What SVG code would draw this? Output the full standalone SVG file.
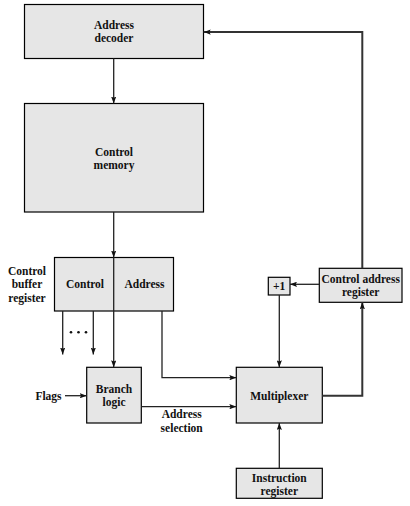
<svg xmlns="http://www.w3.org/2000/svg" width="410" height="506" viewBox="0 0 410 506">
<style>
.box{fill:#e6e6e6;stroke:#000;stroke-width:1.2}
.t{font-family:"Liberation Serif","Times New Roman",serif;font-weight:bold;font-size:11.5px;fill:#111;text-anchor:middle}
.c{fill:none;stroke:#222;stroke-width:1.3}
.k{fill:none;stroke:#333;stroke-width:2}
</style>
<defs>
<marker id="ah" viewBox="0 0 8 6" refX="8" refY="3" markerWidth="7" markerHeight="5.5" markerUnits="userSpaceOnUse" orient="auto">
<path d="M0,0 L8,3 L0,6 L1.5,3 z" fill="#111"/>
</marker>
</defs>
<rect width="410" height="506" fill="#fff"/>
<g id="address-decoder">
<rect class="box" x="24.5" y="4.5" width="179" height="54"/>
<text class="t" x="114" y="29">Address</text>
<text class="t" x="114" y="42">decoder</text>
</g>
<g id="control-memory">
<rect class="box" x="24.5" y="103.5" width="179" height="108.5"/>
<text class="t" x="114" y="156">Control</text>
<text class="t" x="114" y="169">memory</text>
</g>
<g id="control-buffer-register">
<rect class="box" x="54.5" y="257.5" width="119" height="53.5"/>
<text class="t" x="85" y="288">Control</text>
<text class="t" x="144.5" y="288">Address</text>
<text class="t" x="27" y="274.5">Control</text>
<text class="t" x="27" y="288">buffer</text>
<text class="t" x="27" y="301.5">register</text>
</g>
<g id="branch-logic">
<rect class="box" x="86.7" y="367.3" width="54.6" height="55.7"/>
<text class="t" x="114" y="393">Branch</text>
<text class="t" x="114" y="406">logic</text>
</g>
<g id="multiplexer">
<rect class="box" x="236.3" y="367.3" width="86" height="55.7"/>
<text class="t" x="279.3" y="399.5">Multiplexer</text>
</g>
<g id="plus-one">
<rect class="box" x="268.3" y="277.3" width="21.7" height="17.7"/>
<text class="t" x="279.2" y="290">+1</text>
</g>
<g id="control-address-register">
<rect class="box" x="319.3" y="268.3" width="82.7" height="34"/>
<text class="t" x="360.7" y="283">Control address</text>
<text class="t" x="360.7" y="296">register</text>
</g>
<g id="instruction-register">
<rect class="box" x="236.3" y="468.3" width="86" height="30"/>
<text class="t" x="279.3" y="481.5">Instruction</text>
<text class="t" x="279.3" y="494.5">register</text>
</g>
<g id="flags">
<text class="t" x="48.5" y="399.5">Flags</text>
</g>
<g id="address-selection">
<text class="t" x="181.7" y="418">Address</text>
<text class="t" x="181.7" y="431.5">selection</text>
</g>
<g id="connectors">
<path class="c" d="M113.7,58.5 V103.5" marker-end="url(#ah)"/>
<path class="c" d="M113.7,212 V257.5" marker-end="url(#ah)"/>
<path class="c" d="M113.7,257.5 V367.3" marker-end="url(#ah)"/>
<path class="c" d="M62.7,311 V354.5" marker-end="url(#ah)"/>
<path class="c" d="M93.3,311 V354.5" marker-end="url(#ah)"/>
<circle cx="71" cy="332.3" r="1.3" fill="#111"/>
<circle cx="78.5" cy="332.3" r="1.3" fill="#111"/>
<circle cx="86" cy="332.3" r="1.3" fill="#111"/>
<path class="c" d="M65,395.7 H86.7" marker-end="url(#ah)"/>
<path class="c" d="M162,311 V377.7 H236.3" marker-end="url(#ah)"/>
<path class="c" d="M141.3,406.7 H236.3" marker-end="url(#ah)"/>
<path class="k" d="M322.3,395.7 H362.3 V302.3" marker-end="url(#ah)"/>
<path class="k" d="M362.3,268.3 V32 H203.7" marker-end="url(#ah)"/>
<path class="c" d="M319.3,284.3 H290" marker-end="url(#ah)"/>
<path class="c" d="M279.3,295 V367.3" marker-end="url(#ah)"/>
<path class="c" d="M279.3,468.3 V423" marker-end="url(#ah)"/>
</g>
</svg>
